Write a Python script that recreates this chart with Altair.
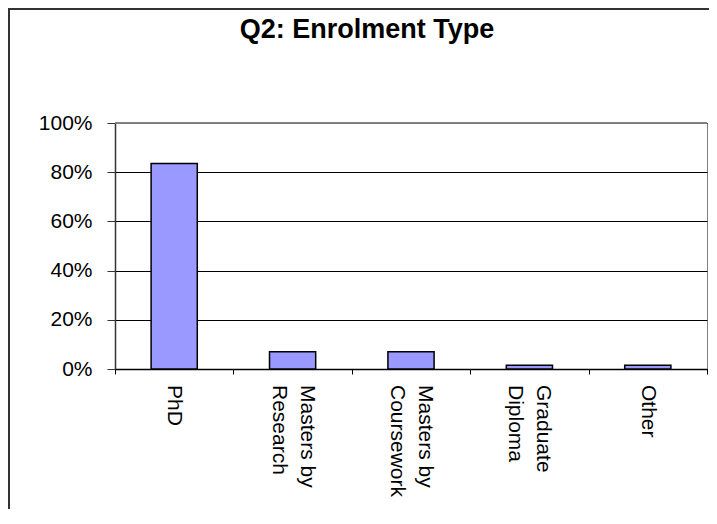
import altair as alt
import pandas as pd

categories = ["PhD", "Masters by\nResearch", "Masters by\nCoursework", "Graduate\nDiploma", "Other"]
values = [0.835, 0.07, 0.07, 0.015, 0.015]
title_text = "Q2: Enrolment Type"
y_max = 1.0

df = pd.DataFrame({"type": categories, "share": values})
df["nlines"] = [c.count("\n") + 1 for c in categories]

FONT = "Liberation Sans, Arial, sans-serif"
W, H = 592, 246
FS = 21
LH = 28

base = alt.Chart(df)
xenc = alt.X("type:N", sort=categories, scale=alt.Scale(paddingInner=0, paddingOuter=0),
             axis=alt.Axis(title=None, labels=False, tickSize=5,
                           tickColor="#000", tickBand="extent", domainColor="#000",
                           domainWidth=1.5, grid=False))

bars = base.mark_bar(
    color="#9999FF", stroke="#000000", strokeWidth=1.5,
    width=alt.RelativeBandSize(0.39)
).encode(
    x=xenc,
    y=alt.Y("share:Q", scale=alt.Scale(domain=[0, y_max]),
            axis=alt.Axis(title=None, format=".0%", values=[0, 0.2, 0.4, 0.6, 0.8, 1.0],
                          labelFont=FONT, labelFontSize=FS, labelColor="#000",
                          labelPadding=15, tickSize=8, tickColor="#333",
                          domainColor="#333", domainWidth=1.5,
                          gridColor="#000", gridWidth=1)),
)

top_line = base.mark_rule(color="#808080", strokeWidth=1).encode(y=alt.datum(y_max))

label_one = base.transform_filter("datum.nlines == 1").mark_text(
    angle=90, align="left", baseline="middle", font=FONT, fontSize=FS, color="#000"
).encode(x=alt.X("type:N", sort=categories), y=alt.value(H + 16), text="type:N")

label_two = base.transform_filter("datum.nlines == 2").mark_text(
    angle=90, align="left", baseline="middle", font=FONT, fontSize=FS, color="#000",
    lineBreak="\n", lineHeight=LH, dy=-LH / 2
).encode(x=alt.X("type:N", sort=categories), y=alt.value(H + 16), text="type:N")

frame = base.mark_rect(fill=None, stroke="#333", strokeWidth=2).encode(
    x=alt.value(-106), x2=alt.value(W + 60), y=alt.value(-114), y2=alt.value(H + 200)
)

chart = alt.layer(bars, top_line, label_one, label_two, frame).properties(
    width=W, height=H,
    autosize=alt.AutoSizeParams(type="none"),
    padding={"left": 107, "top": 115, "right": 2, "bottom": 140},
    title=alt.TitleParams(title_text, font=FONT, fontSize=27, fontWeight="bold",
                          color="#000", anchor="middle", frame="group", dx=-44,
                          offset=-36),
).configure_view(stroke="#808080", strokeWidth=1)

chart.save("out.html", embed_options={"renderer": "svg", "actions": False})
